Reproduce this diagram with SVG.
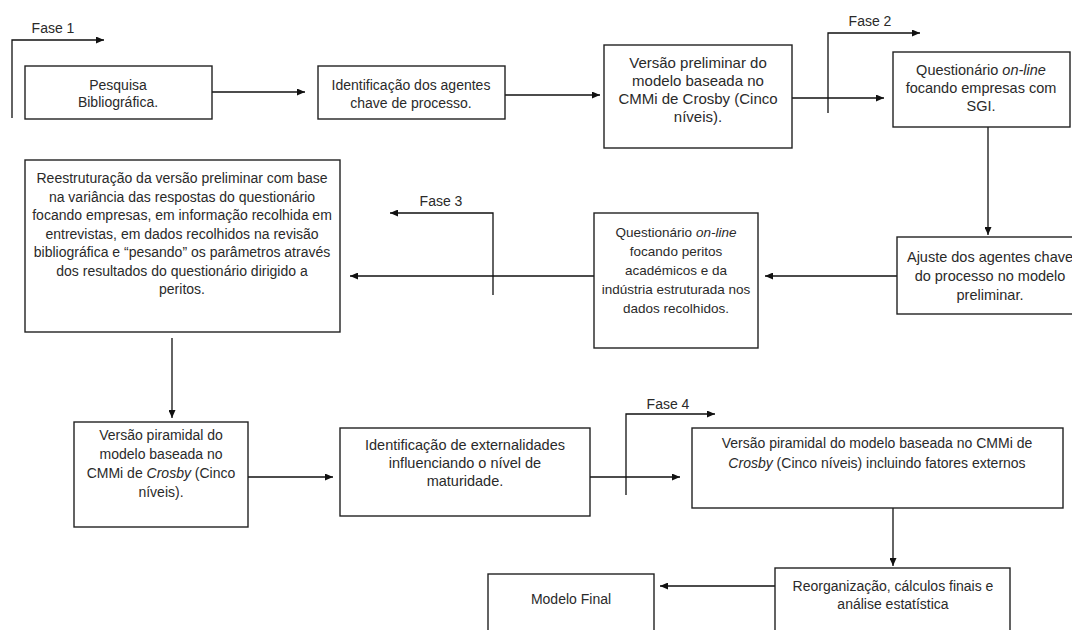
<svg xmlns="http://www.w3.org/2000/svg" width="1072" height="630" viewBox="0 0 1072 630">
  <defs>
    <marker id="arrow" markerWidth="8" markerHeight="7" refX="8" refY="3.5" orient="auto" markerUnits="userSpaceOnUse">
      <path d="M0,0 L8,3.5 L0,7 z" fill="#111"/>
    </marker>
    <style>
      .box { fill: #ffffff; stroke: #222; stroke-width: 1.4; }
      .edge { fill: none; stroke: #111; stroke-width: 1.3; }
      .arr { marker-end: url(#arrow); }
      text { font-family: "Liberation Sans", Arial, sans-serif; font-size: 14px; fill: #2a2a2a; text-anchor: middle; }
      .it { font-style: italic; }
      .s135 { font-size: 13.5px; }
      .s145 { font-size: 14.5px; }
      .s15 { font-size: 15px; }
    </style>
  </defs>
  <rect width="1072" height="630" fill="#ffffff"/>

  <!-- connectors and phase brackets -->
  <g id="connectors">
    <!-- Fase 1 -->
    <path class="edge arr" d="M12,118 V40 H104"/>
    <text x="53" y="33">Fase 1</text>
    <path class="edge arr" d="M212,92 H305"/>
    <path class="edge arr" d="M505,95 H600"/>
    <!-- Fase 2 -->
    <path class="edge arr" d="M792,98 H884"/>
    <path class="edge arr" d="M828,113 V33 H920"/>
    <text x="870" y="26">Fase 2</text>
    <path class="edge arr" d="M988,127 V235"/>
    <path class="edge arr" d="M897,276 H765"/>
    <!-- Fase 3 -->
    <path class="edge arr" d="M594,276 H350"/>
    <path class="edge arr" d="M493,295 V213 H390"/>
    <text x="441" y="206">Fase 3</text>
    <path class="edge arr" d="M172,338 V418"/>
    <path class="edge arr" d="M248,477 H333"/>
    <!-- Fase 4 -->
    <path class="edge arr" d="M590,477 H680"/>
    <path class="edge arr" d="M626,495 V414 H715"/>
    <text x="668" y="409">Fase 4</text>
    <path class="edge arr" d="M893,508 V566"/>
    <path class="edge arr" d="M775,586 H660"/>
  </g>

  <g id="n-pesquisa">
    <rect class="box" x="25" y="66" width="187" height="53"/>
    <text x="118" y="90">Pesquisa</text>
    <text x="118" y="107">Bibliográfica.</text>
  </g>

  <g id="n-agentes">
    <rect class="box" x="318" y="66" width="187" height="53"/>
    <text x="411" y="90">Identificação dos agentes</text>
    <text x="411" y="108">chave de processo.</text>
  </g>

  <g id="n-versao-preliminar">
    <rect class="box" x="604" y="45" width="188" height="103"/>
    <text class="s15" x="698" y="68">Versão preliminar do</text>
    <text class="s15" x="698" y="86">modelo baseada no</text>
    <text class="s15" x="698" y="104">CMMi de Crosby (Cinco</text>
    <text class="s15" x="698" y="122">níveis).</text>
  </g>

  <g id="n-questionario-empresas">
    <rect class="box" x="893" y="52" width="177" height="75"/>
    <text class="s145" x="981" y="75">Questionário <tspan class="it">on-line</tspan></text>
    <text class="s145" x="981" y="93">focando empresas com</text>
    <text class="s145" x="981" y="111">SGI.</text>
  </g>

  <g id="n-ajuste">
    <rect class="box" x="897" y="237" width="190" height="77"/>
    <text class="s145" x="990" y="262">Ajuste dos agentes chave</text>
    <text class="s145" x="990" y="281">do processo no modelo</text>
    <text class="s145" x="990" y="300">preliminar.</text>
  </g>

  <g id="n-questionario-peritos">
    <rect class="box" x="594" y="213" width="164" height="135"/>
    <text class="s135" x="676" y="237">Questionário <tspan class="it">on-line</tspan></text>
    <text class="s135" x="676" y="256">focando peritos</text>
    <text class="s135" x="676" y="275">académicos e da</text>
    <text class="s135" x="676" y="294">indústria estruturada nos</text>
    <text class="s135" x="676" y="313">dados recolhidos.</text>
  </g>

  <g id="n-reestruturacao">
    <rect class="box" x="25" y="160" width="315" height="172"/>
    <text x="182" y="183">Reestruturação da versão preliminar com base</text>
    <text x="182" y="201.5">na variância das respostas do questionário</text>
    <text x="182" y="220">focando empresas, em informação recolhida em</text>
    <text x="182" y="238.5">entrevistas, em dados recolhidos na revisão</text>
    <text x="182" y="257">bibliográfica e “pesando” os parâmetros através</text>
    <text x="182" y="275.5">dos resultados do questionário dirigido a</text>
    <text x="182" y="294">peritos.</text>
  </g>

  <g id="n-versao-piramidal">
    <rect class="box" x="74" y="422" width="174" height="105"/>
    <text x="161" y="440">Versão piramidal do</text>
    <text x="161" y="459">modelo baseada no</text>
    <text x="161" y="478">CMMi de <tspan class="it">Crosby</tspan> (Cinco</text>
    <text x="161" y="497">níveis).</text>
  </g>

  <g id="n-externalidades">
    <rect class="box" x="340" y="428" width="250" height="88"/>
    <text class="s145" x="465" y="450">Identificação de externalidades</text>
    <text class="s145" x="465" y="468">influenciando o nível de</text>
    <text class="s145" x="465" y="486">maturidade.</text>
  </g>

  <g id="n-versao-externos">
    <rect class="box" x="692" y="428" width="371" height="80"/>
    <text x="877" y="448">Versão piramidal do modelo baseada no CMMi de</text>
    <text x="877" y="468"><tspan class="it">Crosby</tspan> (Cinco níveis) incluindo fatores externos</text>
  </g>

  <g id="n-reorganizacao">
    <rect class="box" x="775" y="568" width="235" height="80"/>
    <text x="893" y="591">Reorganização, cálculos finais e</text>
    <text x="893" y="609">análise estatística</text>
  </g>

  <g id="n-modelo-final">
    <rect class="box" x="488" y="574" width="166" height="80"/>
    <text x="571" y="604">Modelo Final</text>
  </g>
</svg>
